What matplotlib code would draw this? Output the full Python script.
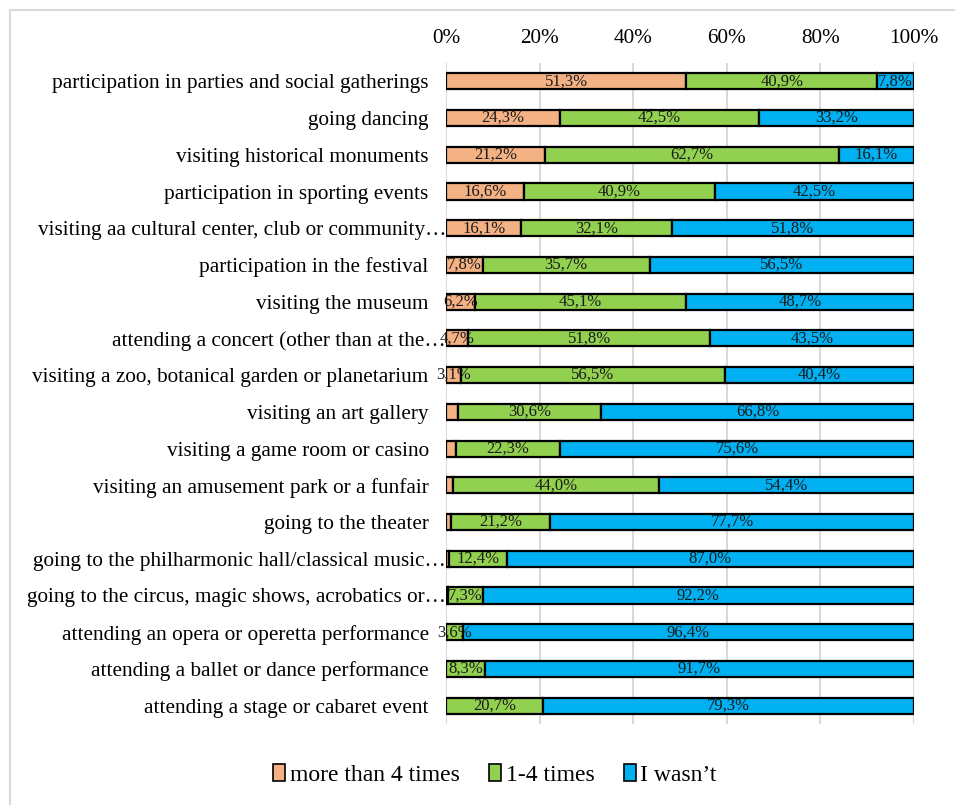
import matplotlib
matplotlib.use("Agg")
import matplotlib.pyplot as plt
from matplotlib.patches import Patch
from matplotlib.lines import Line2D
from matplotlib.transforms import ScaledTranslation

plt.rcParams['font.family'] = ['Liberation Serif', 'DejaVu Serif']

categories = [
    "participation in parties and social gatherings",
    "going dancing",
    "visiting historical monuments",
    "participation in sporting events",
    "visiting aa cultural center, club or community\u2026",
    "participation in the festival",
    "visiting the museum",
    "attending a concert (other than at the\u2026",
    "visiting a zoo, botanical garden or planetarium",
    "visiting an art gallery",
    "visiting a game room or casino",
    "visiting an amusement park or a funfair",
    "going to the theater",
    "going to the philharmonic hall/classical music\u2026",
    "going to the circus, magic shows, acrobatics or\u2026",
    "attending an opera or operetta performance",
    "attending a ballet or dance performance",
    "attending a stage or cabaret event",
]
more_than_4 = [51.3, 24.3, 21.2, 16.6, 16.1, 7.8, 6.2, 4.7, 3.1, 2.6, 2.1, 1.6, 1.1, 0.6, 0.5, 0.0, 0.0, 0.0]
one_to_4 = [40.9, 42.5, 62.7, 40.9, 32.1, 35.7, 45.1, 51.8, 56.5, 30.6, 22.3, 44.0, 21.2, 12.4, 7.3, 3.6, 8.3, 20.7]
wasnt = [7.8, 33.2, 16.1, 42.5, 51.8, 56.5, 48.7, 43.5, 40.4, 66.8, 75.6, 54.4, 77.7, 87.0, 92.2, 96.4, 91.7, 79.3]
series_names = ["more than 4 times", "1-4 times", "I wasn\u2019t"]
colors = ["#F4B183", "#92D050", "#00B0F0"]
xticks = [0, 20, 40, 60, 80, 100]

fig = plt.figure(figsize=(9.55, 8.05), dpi=100)
ax = fig.add_axes([446/955, 1-724/805, (914-446)/955, (724-63)/805])

ypos = list(range(len(categories)))
left = [0.0]*len(categories)
for vals, col in zip([more_than_4, one_to_4, wasnt], colors):
    ax.barh(ypos, vals, left=left, height=0.44, color=col,
            edgecolor='black', linewidth=1.6, zorder=3)
    for y, v, l in zip(ypos, vals, left):
        if v >= 3:
            ax.text(l + v/2, y, f"{v:.1f}%".replace('.', ','), ha='center', va='center',
                    fontsize=12, color='#1a1a1a', zorder=4)
    left = [a+b for a, b in zip(left, vals)]

ax.set_xlim(0, 100)
ax.set_ylim(len(categories)-0.5, -0.5)
ax.set_yticks(ypos)
ax.set_yticklabels(categories, fontsize=15.3)
ax.set_xticks(xticks)
ax.set_xticklabels([f"{t}%" for t in xticks], fontsize=15.3)
ax.xaxis.tick_top()
ax.tick_params(axis='both', length=0)
ax.tick_params(axis='x', pad=11)
ax.tick_params(axis='y', pad=12.5)
for s in ax.spines.values():
    s.set_visible(False)
ax.grid(axis='x', color='#D9D9D9', linewidth=1.5, zorder=0)
ax.set_axisbelow(True)

# truncated labels: ellipsis hangs past the label edge as in the reference
shift = ScaledTranslation(12.5/72, 0, fig.dpi_scale_trans)
for lab in ax.get_yticklabels():
    if lab.get_text().endswith("\u2026"):
        lab.set_transform(lab.get_transform() + shift)

handles = [Patch(facecolor=c, edgecolor='black', linewidth=1.2) for c in colors]
fig.legend(handles, series_names, loc='center', bbox_to_anchor=(495/955, 1-775/805),
           ncol=3, frameon=False, fontsize=17, handlelength=0.5, handleheight=0.75,
           handletextpad=0.2, columnspacing=1.25)

# outer frame (partial, as in reference)
fig.add_artist(Line2D([10/955, 10/955], [0, 1-10/805], transform=fig.transFigure, color='#D9D9D9', lw=1.5))
fig.add_artist(Line2D([10/955, 1], [1-10/805, 1-10/805], transform=fig.transFigure, color='#D9D9D9', lw=1.5))

fig.savefig("out.png", dpi=100)
